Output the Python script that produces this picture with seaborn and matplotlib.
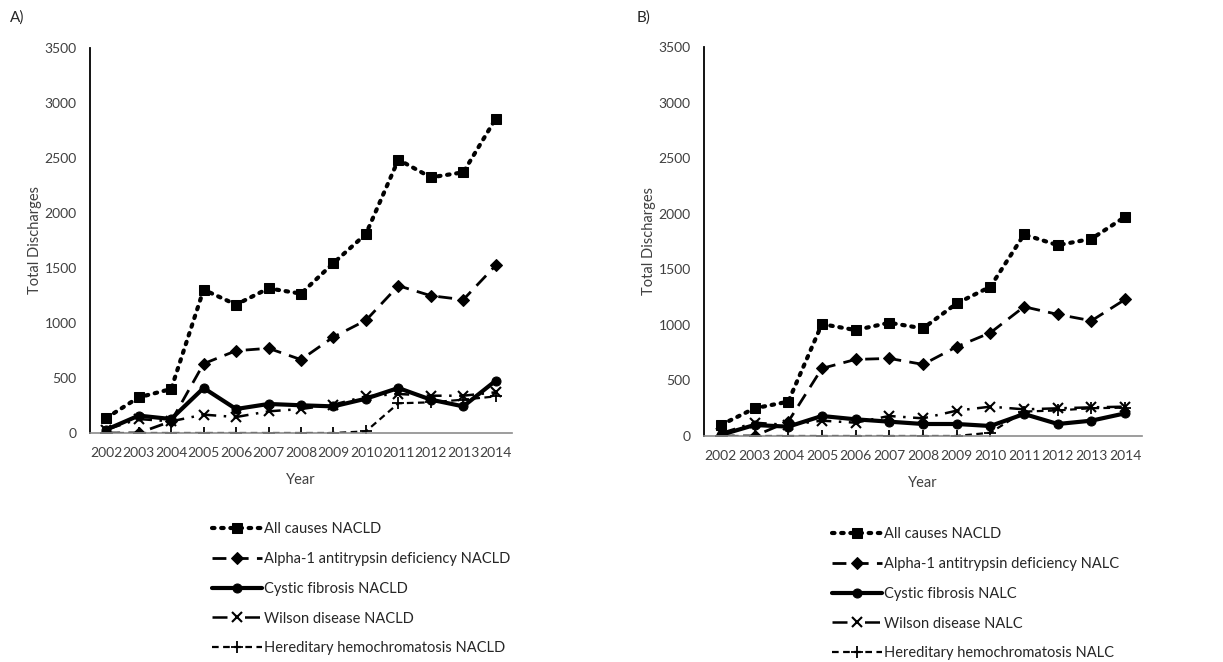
import matplotlib
matplotlib.use("Agg")
import matplotlib.pyplot as plt
import seaborn as sns
import pandas as pd

years = [2002, 2003, 2004, 2005, 2006, 2007, 2008, 2009, 2010, 2011, 2012, 2013, 2014]

# Panel A (NACLD)
a_all = [136, 324, 400, 1303, 1167, 1315, 1267, 1545, 1809, 2485, 2324, 2370, 2858]
a_alpha = [0, 0, 106, 630, 748, 770, 667, 873, 1024, 1339, 1248, 1212, 1524]
a_cf = [30, 158, 127, 409, 218, 264, 252, 242, 312, 409, 303, 242, 476]
a_wilson = [30, 127, 106, 167, 145, 197, 218, 258, 333, 355, 339, 339, 370]
a_hh = [0, 0, 0, 0, 0, 0, 0, 0, 15, 270, 279, 303, 333]

# Panel B (NALC)
b_all = [99, 249, 309, 1007, 953, 1019, 968, 1193, 1343, 1813, 1717, 1774, 1972]
b_alpha = [0, 0, 129, 608, 689, 698, 644, 803, 929, 1163, 1094, 1037, 1229]
b_cf = [10, 99, 84, 180, 150, 129, 108, 108, 90, 198, 108, 138, 204]
b_wilson = [24, 120, 99, 138, 120, 180, 159, 228, 264, 240, 249, 258, 264]
b_hh = [0, 0, 0, 0, 0, 0, 0, 0, 30, 220, 230, 250, 255]

labels_a = ["All causes NACLD", "Alpha-1 antitrypsin deficiency NACLD", "Cystic fibrosis NACLD",
            "Wilson disease NACLD", "Hereditary hemochromatosis NACLD"]
labels_b = ["All causes NACLD", "Alpha-1 antitrypsin deficiency NALC", "Cystic fibrosis NALC",
            "Wilson disease NALC", "Hereditary hemochromatosis NALC"]

sns.set_theme(style="white")
plt.rcParams['font.family'] = ['Lato', 'DejaVu Sans']

styles = [
    dict(marker='s', linestyle=(0, (0.6, 1.6)), linewidth=3.0, markersize=7.5, dash_capstyle='round'),
    dict(marker='D', linestyle=(0, (5, 3)), linewidth=2.0, markersize=6.5),
    dict(marker='o', linestyle='-', linewidth=3.0, markersize=6.5),
    dict(marker='x', linestyle=(0, (6, 3, 1, 3)), linewidth=1.8, markersize=7, markeredgewidth=1.5),
    dict(marker='+', linestyle=(0, (3, 2)), linewidth=1.6, markersize=8, markeredgewidth=1.3),
]

fig = plt.figure(figsize=(12.23, 6.62), dpi=100)
axA = fig.add_axes([90/1223, 1-433/662, 422/1223, 385/662])
axB = fig.add_axes([704/1223, 1-436/662, 438/1223, 389/662])

def draw(ax, series, labels, leg_anchor):
    for vals, lab, st in zip(series, labels, styles):
        df = pd.DataFrame({"Year": years, "v": vals})
        sns.lineplot(data=df, x="Year", y="v", ax=ax, color='black', label=lab,
                     markeredgecolor='black', markerfacecolor='black', **st)
    ax.set_xlim(2001.5, 2014.5)
    ax.set_ylim(0, 3500)
    ax.set_xticks(years)
    ax.set_xticklabels([str(y) for y in years])
    ax.set_yticks(range(0, 3501, 500))
    for s in ['top', 'right']:
        ax.spines[s].set_visible(False)
    ax.spines['left'].set_color('black')
    ax.spines['left'].set_linewidth(1.3)
    ax.spines['bottom'].set_color('#8c8c8c')
    ax.spines['bottom'].set_linewidth(1.2)
    ax.tick_params(axis='both', length=0, labelsize=10, labelcolor='#404040')
    ax.tick_params(axis='y', pad=9.5)
    ax.tick_params(axis='x', pad=10)
    ax.set_xlabel("Year", fontsize=10.5, color='#404040', labelpad=10)
    ax.set_ylabel("Total Discharges", fontsize=10.5, color='#404040', labelpad=2)
    ax.legend(loc='upper left', bbox_to_anchor=leg_anchor, bbox_transform=fig.transFigure,
              frameon=False, fontsize=10.5, handlelength=3.4, handletextpad=0.15,
              labelspacing=1.08, borderpad=0, labelcolor='#262626')

draw(axA, [a_all, a_alpha, a_cf, a_wilson, a_hh], labels_a, (205/1223, 1-515/662))
draw(axB, [b_all, b_alpha, b_cf, b_wilson, b_hh], labels_b, (825/1223, 1-520/662))

fig.text(10/1223, 1-18/662, "A)", fontsize=11, va='center', ha='left', color='#262626')
fig.text(637/1223, 1-18/662, "B)", fontsize=11, va='center', ha='left', color='#262626')

fig.savefig("out.png", dpi=100)
